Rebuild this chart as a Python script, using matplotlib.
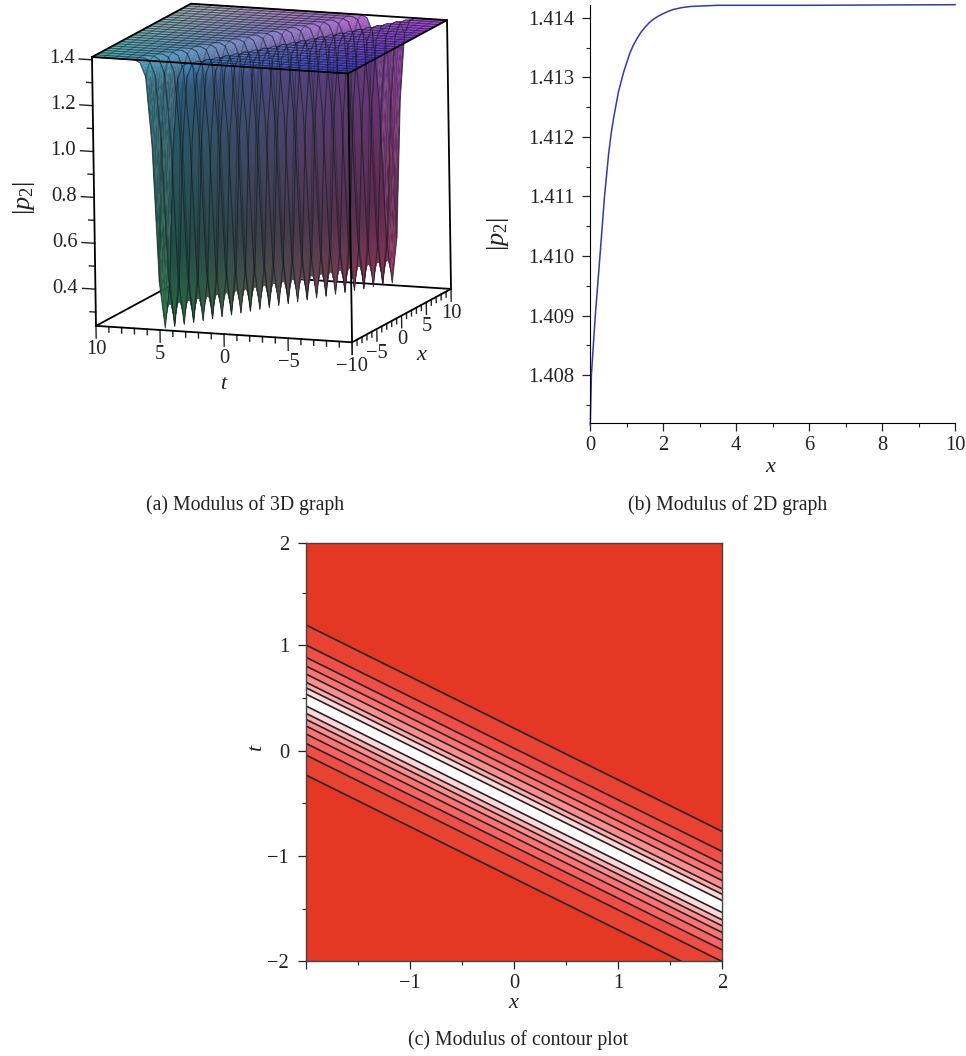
import numpy as np
import matplotlib
matplotlib.use('Agg')
import matplotlib.pyplot as plt
from matplotlib.ticker import MultipleLocator
from mpl_toolkits.mplot3d import proj3d
from mpl_toolkits.mplot3d.art3d import Poly3DCollection

# --- datos ---
# panel (a): ejes y perfil del valle (por paso de grilla desde el centro)
t_ticks_3d = [10, 5, 0, -5, -10]
x_ticks_3d = [-10, -5, 0, 5, 10]
z_ticks_3d = [0.4, 0.6, 0.8, 1.0, 1.2, 1.4]
z_lim_3d = [0.24, 1.412]
valle_z = [0.25, 0.45, 1.05, 1.34, 1.40, 1.412, 1.412]
n_filas_x = 25
n_cols_t = 49
col_inicio_valle = 13

# panel (b)
x_curva = [0, 0.03, 0.137, 0.265, 0.39, 0.5, 0.57, 0.64, 0.77, 0.91, 1.08, 1.18, 1.28,
           1.38, 1.5, 1.62, 1.74, 1.87, 2.0, 2.14, 2.28, 2.5, 2.74, 3.5, 6, 10]
y_curva = [1.40716, 1.408, 1.409, 1.410, 1.411, 1.4117, 1.41205, 1.41232, 1.41275,
           1.41308, 1.41340, 1.41354, 1.41365, 1.41375, 1.41384, 1.41392, 1.41398,
           1.41403, 1.41407, 1.41411, 1.41414, 1.41417, 1.41419, 1.41421, 1.41421, 1.41422]

# panel (c): cortes de cada curva de nivel en x=-2 y x=2
linea_izq = [1.194, 1.004, 0.887, 0.804, 0.728, 0.650, 0.598, 0.538,
             0.425, 0.355, 0.298, 0.235, 0.159, 0.070, -0.041, -0.231]
linea_der = [-0.769, -0.959, -1.076, -1.159, -1.235, -1.313, -1.365, -1.425,
             -1.538, -1.608, -1.665, -1.728, -1.804, -1.893, -2.004, -2.194]
colores_banda = ['#e43824', '#e84232', '#ee4e46', '#f66464', '#fa7474', '#fb8e8e',
                 '#fbacac', '#fcd8d8', '#ffffff', '#fcd8d8', '#fbacac', '#fb8e8e',
                 '#fa7474', '#f66464', '#ee4e46', '#e84232', '#e43824']

OSCURO = '#222222'
F_TICK = 14.8
F_CAP = 14.2
F_VAR = 16
F_P = 19

plt.rcParams['font.family'] = 'Liberation Serif'
plt.rcParams['mathtext.fontset'] = 'custom'
plt.rcParams['mathtext.rm'] = 'Liberation Serif'
plt.rcParams['mathtext.it'] = 'Liberation Serif:italic'
plt.rcParams['font.size'] = F_TICK
plt.rcParams['text.color'] = OSCURO
plt.rcParams['axes.labelcolor'] = OSCURO
plt.rcParams['xtick.color'] = OSCURO
plt.rcParams['ytick.color'] = OSCURO

W, H = 966, 1056
fig = plt.figure(figsize=(W / 100, H / 100), dpi=100)


def caja(izq, der, arriba, abajo):
    return [izq / W, 1 - abajo / H, (der - izq) / W, (abajo - arriba) / H]


def texto_px(px, py, s, **kw):
    fig.text(px / W, 1 - py / H, s, **kw)


# ----- panel (a) -----
ax3 = fig.add_axes([0.0, 0.6, 0.55, 0.4], projection='3d', proj_type='ortho',
                   computed_zorder=False)
ax3.set_xlim(10, -10)
ax3.set_ylim(-10, 10)
ax3.set_zlim(*z_lim_3d)
ax3.view_init(elev=11.7, azim=-68.7, roll=0.85)
ax3.set_axis_off()
ax3.patch.set_visible(False)

z_bajo, z_alto = z_lim_3d

# ajusto zoom y posicion para que la caja caiga donde esta en la figura
def a_pixel(t, x, z):
    xs, ys, _ = proj3d.proj_transform(t, x, z, ax3.get_proj())
    px, py = ax3.transData.transform((xs, ys))
    return np.array([px, H - py])

zoom = 1.0
for _ in range(4):
    ax3.set_box_aspect((1, 1, 1), zoom=zoom)
    ax3.apply_aspect()
    a = a_pixel(10, -10, z_bajo)
    b = a_pixel(-10, -10, z_bajo)
    zoom *= 256.6 / np.linalg.norm(b - a)
ax3.set_box_aspect((1, 1, 1), zoom=zoom)
for _ in range(3):
    ax3.apply_aspect()
    centro = (a_pixel(10, -10, z_bajo) + a_pixel(-10, 10, z_alto)) / 2
    dx, dy = np.array([271.5, 173.0]) - centro
    p = ax3.get_position(original=True)
    ax3.set_position([p.x0 + dx / W, p.y0 - dy / H, p.width, p.height])
ax3.apply_aspect()

t_grid = np.linspace(10, -10, n_cols_t)
x_grid = np.linspace(-10, 10, n_filas_x)
T, X = np.meshgrid(t_grid, x_grid)
Z = np.zeros_like(T)
for i in range(n_filas_x):
    for j in range(n_cols_t):
        d = min(abs(j - (col_inicio_valle + i)), len(valle_z) - 1)
        Z[i, j] = valle_z[d]

# subdivido cada celda solo para que el color varie con la altura
sub = 4
ii = np.linspace(0, n_filas_x - 1, (n_filas_x - 1) * sub + 1)
jj = np.linspace(0, n_cols_t - 1, (n_cols_t - 1) * sub + 1)
i0 = np.minimum(ii.astype(int), n_filas_x - 2)
j0 = np.minimum(jj.astype(int), n_cols_t - 2)
fi = (ii - i0)[:, None]
fj = (jj - j0)[None, :]
Zf = (Z[np.ix_(i0, j0)] * (1 - fi) * (1 - fj) + Z[np.ix_(i0 + 1, j0)] * fi * (1 - fj)
      + Z[np.ix_(i0, j0 + 1)] * (1 - fi) * fj + Z[np.ix_(i0 + 1, j0 + 1)] * fi * fj)
Tf, Xf = np.meshgrid(np.linspace(10, -10, len(jj)), np.linspace(-10, 10, len(ii)))


def color_xyz(t, x, z):
    xn = (x + 10) / 20
    tn = (10 - t) / 20
    zn = (z - z_bajo) / (z_alto - z_bajo)
    r = 0.15 + 0.42 * xn + 0.12 * zn
    g = 0.56 + 0.14 * zn - 0.465 * tn
    b = 0.20 + 0.50 * zn + 0.15 * tn
    # las paredes del valle se ven mas oscuras que el plano, menos en las puntas
    sombra = 0.66 + 0.34 * np.clip((z - 1.3) / 0.1, 0, 1) + 0.34 * np.clip((0.6 - z) / 0.35, 0, 1)
    return (np.stack([r, g, b], axis=-1) * sombra[..., None]).clip(0, 1)


caras = np.stack([
    np.stack([Tf[:-1, :-1], Xf[:-1, :-1], Zf[:-1, :-1]], -1),
    np.stack([Tf[1:, :-1], Xf[1:, :-1], Zf[1:, :-1]], -1),
    np.stack([Tf[1:, 1:], Xf[1:, 1:], Zf[1:, 1:]], -1),
    np.stack([Tf[:-1, 1:], Xf[:-1, 1:], Zf[:-1, 1:]], -1)], axis=2)
medio = caras.mean(axis=2)
col = color_xyz(medio[..., 0], medio[..., 1], medio[..., 2])
superficie = Poly3DCollection(caras.reshape(-1, 4, 3), facecolors=col.reshape(-1, 3),
                              edgecolors=col.reshape(-1, 3), linewidths=0.2, zorder=2)
ax3.add_collection3d(superficie)

# malla
for i in range(n_filas_x):
    ax3.plot(T[i], X[i], Z[i], color='#101820', alpha=0.6, lw=0.8, zorder=3)
for j in range(0, n_cols_t, 2):
    ax3.plot(T[:, j], X[:, j], Z[:, j], color='#101820', alpha=0.4, lw=0.7, zorder=3)


def arista(t, x, z, zorder=5):
    ax3.plot(t, x, z, color='black', lw=1.3, zorder=zorder, solid_capstyle='round')


# aristas ocultas por la superficie
arista([10, 10], [-10, 10], [z_bajo, z_bajo], 1)
arista([10, -10], [10, 10], [z_bajo, z_bajo], 1)
arista([-10, -10], [10, 10], [z_bajo, z_alto], 1)
# aristas al frente
arista([10, -10], [-10, -10], [z_alto, z_alto])
arista([10, 10], [-10, 10], [z_alto, z_alto])
arista([10, -10], [10, 10], [z_alto, z_alto])
arista([-10, -10], [-10, 10], [z_alto, z_alto])
arista([10, 10], [-10, -10], [z_bajo, z_alto])
arista([-10, -10], [-10, -10], [z_bajo, z_alto])
arista([10, -10], [-10, -10], [z_bajo, z_bajo])
arista([-10, -10], [-10, 10], [z_bajo, z_bajo])

# marcas de los ejes
for z in np.arange(0.3, 1.41, 0.1):
    mayor = min(abs(z - v) for v in z_ticks_3d) < 1e-6
    ax3.plot([10, 11.0 if mayor else 10.45], [-10, -10], [z, z], color=OSCURO, lw=1, zorder=4)
for v in range(-10, 11):
    largo = 0.053 if v % 5 == 0 else 0.024
    ax3.plot([v, v], [-10, -10], [z_bajo, z_bajo - largo], color=OSCURO, lw=1, zorder=4)
    ax3.plot([-10, -10], [v, v], [z_bajo, z_bajo - largo], color=OSCURO, lw=1, zorder=4)


def etiqueta(v):
    return str(v).replace('-', '\u2212')


def texto_3d(t, x, z, s, **kw):
    px, py = a_pixel(t, x, z)
    texto_px(px, py, s, **kw)


for v in t_ticks_3d:
    texto_3d(v, -10, z_bajo - 0.105, etiqueta(v), ha='center', va='center')
for v in x_ticks_3d[1:]:
    texto_3d(-10, v, z_bajo - 0.105, etiqueta(v), ha='center', va='center')
for v in z_ticks_3d:
    texto_3d(11.35, -10, v, f'{v:.1f}', ha='right', va='center')
texto_3d(0, -10, 0.02, r'$t$', ha='center', va='center', fontsize=F_VAR)
texto_3d(-10, 4, 0.02, r'$x$', ha='center', va='center', fontsize=F_VAR)
texto_3d(15.5, -10, 0.777, r'$|p_2|$', ha='center', va='center', rotation=90, fontsize=F_P)

# ----- panel (b) -----
ax_b = fig.add_axes(caja(590.3, 955, 4.7, 422.7))
ax_b.plot(x_curva, y_curva, color='#323ca8', lw=1.1, clip_on=False)
ax_b.set_xlim(0, 10)
ax_b.set_ylim(1.4072, 1.41422)
ax_b.set_xticks([0, 2, 4, 6, 8, 10])
ax_b.set_yticks([1.408, 1.409, 1.410, 1.411, 1.412, 1.413, 1.414])
ax_b.set_yticklabels(['1.408', '1.409', '1.410', '1.411', '1.412', '1.413', '1.414'])
ax_b.xaxis.set_minor_locator(MultipleLocator(1))
ax_b.yaxis.set_minor_locator(MultipleLocator(0.0005))
ax_b.spines['top'].set_visible(False)
ax_b.spines['right'].set_visible(False)
ax_b.tick_params(which='major', length=5.5, width=0.9, pad=4)
ax_b.tick_params(axis='y', which='major', pad=6)
ax_b.tick_params(which='minor', length=2.8, width=0.8)
texto_px(771, 467, r'$x$', ha='center', va='center', fontsize=F_VAR)
texto_px(498, 234, r'$|p_2|$', ha='center', va='center', rotation=90, fontsize=F_P)

# ----- panel (c) -----
ax_c = fig.add_axes(caja(305.7, 722.3, 542.7, 961.2))
x_borde = [-2, 2]
y_arriba = 1.974  # la marca "2" queda un poco corrida en el original
arriba = [3.0, 3.0]
for k, color in enumerate(colores_banda):
    sup = arriba if k == 0 else [linea_izq[k - 1], linea_der[k - 1]]
    inf = [-4.0, -4.0] if k == len(linea_izq) else [linea_izq[k], linea_der[k]]
    ax_c.fill_between(x_borde, inf, sup, color=color, lw=0)
for iz, de in zip(linea_izq, linea_der):
    ax_c.plot(x_borde, [iz, de], color='#2a2024', lw=1.2)
ax_c.set_xlim(-2, 2)
ax_c.set_ylim(-2, y_arriba)
ax_c.set_xticks([-2, -1, 0, 1, 2])
ax_c.set_xticklabels(['', '\u22121', '0', '1', '2'])
ax_c.set_yticks([-2, -1, 0, 1, y_arriba])
ax_c.set_yticklabels(['\u22122', '\u22121', '0', '1', '2'])
ax_c.xaxis.set_minor_locator(MultipleLocator(0.5))
ax_c.yaxis.set_minor_locator(MultipleLocator(0.5))
for lado in ['top', 'left', 'bottom', 'right']:
    ax_c.spines[lado].set_linewidth(1.0)
    ax_c.spines[lado].set_color('#444444')
ax_c.tick_params(which='major', length=5.5, width=0.9, pad=4)
ax_c.tick_params(axis='y', which='major', pad=6.5)
ax_c.tick_params(which='minor', length=2.8, width=0.8)
texto_px(514, 1003, r'$x$', ha='center', va='center', fontsize=F_VAR)
texto_px(258, 748, r'$t$', ha='center', va='center', rotation=90, fontsize=F_VAR)

# leyendas de cada panel
texto_px(245, 505, '(a) Modulus of 3D graph', ha='center', va='center', fontsize=F_CAP)
texto_px(728, 505, '(b) Modulus of 2D graph', ha='center', va='center', fontsize=F_CAP)
texto_px(518, 1040, '(c) Modulus of contour plot', ha='center', va='center', fontsize=F_CAP)

fig.savefig('out.png', dpi=100)
